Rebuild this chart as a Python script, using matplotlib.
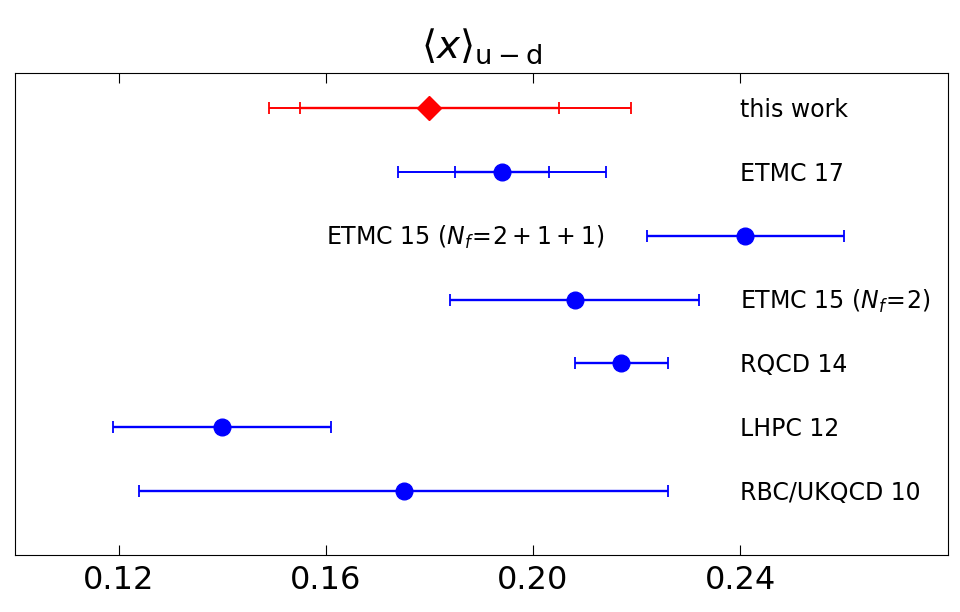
import numpy as np
import matplotlib
matplotlib.use("Agg")
import matplotlib.pyplot as plt

plt.rcParams['mathtext.fontset'] = 'dejavusans'

# collaborations, top to bottom
labels = ['this work', 'ETMC 17', r'ETMC 15 ($N_f\!=\!2+1+1$)',
          r'ETMC 15 ($N_f\!=\!2$)', 'RQCD 14', 'LHPC 12', 'RBC/UKQCD 10']
values = [0.180, 0.194, 0.241, 0.208, 0.217, 0.140, 0.175]
# statistical (inner) errors
err_stat_lo = [0.025, 0.009, 0.019, 0.024, 0.009, 0.021, 0.051]
err_stat_hi = [0.025, 0.009, 0.019, 0.024, 0.009, 0.021, 0.051]
# total (outer) errors, only where an extra bar is drawn
err_tot_lo = [0.031, 0.020, None, None, None, None, None]
err_tot_hi = [0.039, 0.020, None, None, None, None, None]
label_x = [0.24, 0.24, 0.16, 0.24, 0.24, 0.24, 0.24]
xticks = [0.12, 0.16, 0.20, 0.24]

n = len(labels)
ypos = np.arange(n, 0, -1)

fig = plt.figure(figsize=(9.6, 6.12), dpi=100)
ax = fig.add_axes([0.0156, 0.093, 0.9714, 0.788])

for i in range(n):
    col = 'red' if i == 0 else 'blue'
    mk = 'D' if i == 0 else 'o'
    if err_tot_lo[i] is not None:
        ax.errorbar(values[i], ypos[i],
                    xerr=[[err_tot_lo[i]], [err_tot_hi[i]]],
                    fmt='none', ecolor=col, elinewidth=1.4,
                    capsize=4.5, capthick=1.3)
    ax.errorbar(values[i], ypos[i],
                xerr=[[err_stat_lo[i]], [err_stat_hi[i]]],
                fmt=mk, color=col, ecolor=col, ms=12, mec=col,
                elinewidth=1.7, capsize=4.5, capthick=1.3)
    ax.text(label_x[i], ypos[i] - 0.03, labels[i], fontsize=17,
            va='center', ha='left')

ax.set_xlim(0.10, 0.28)
ax.set_ylim(0, n + 0.55)
ax.set_xticks(xticks)
ax.set_xticklabels(['%.2f' % t for t in xticks])
ax.set_yticks([])
ax.tick_params(axis='x', direction='in', top=True, length=7,
               labelsize=23, pad=7)
ax.set_title(r'$\left\langle x\right\rangle_{\mathrm{u-d}}$', fontsize=28, pad=11)

fig.savefig('out.png', dpi=100)
